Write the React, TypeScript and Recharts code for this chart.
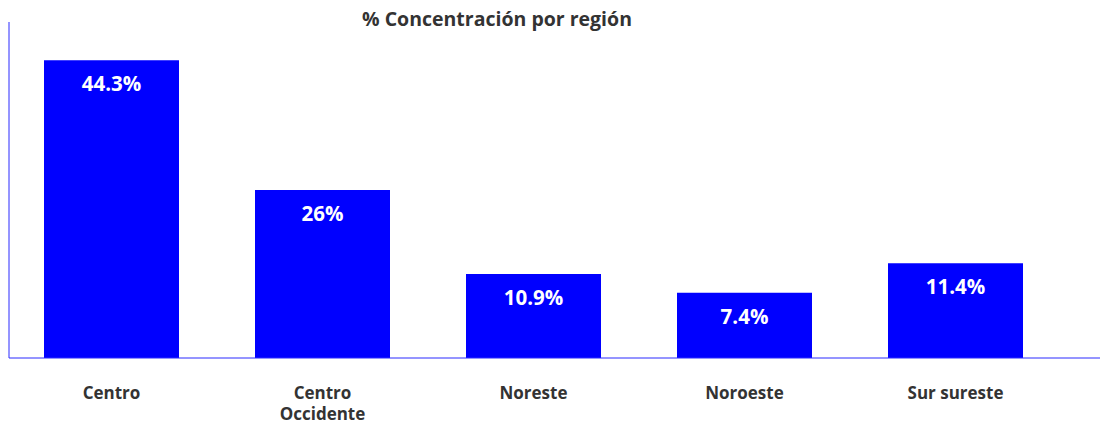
import { BarChart, Bar, XAxis, YAxis, LabelList } from 'recharts'

const regions = ['Centro', 'Centro Occidente', 'Noreste', 'Noroeste', 'Sur sureste']
// bar heights as drawn in the picture (same % units as the printed labels)
const shares = [44.3, 25.0, 12.5, 9.7, 14.1]
const shareLabels = ['44.3%', '26%', '10.9%', '7.4%', '11.4%']
const tickLines: Record<string, string[]> = {
  'Centro Occidente': ['Centro', 'Occidente'],
}

const data = regions.map((region, i) => ({ region, share: shares[i], label: shareLabels[i] }))

const FONT = '"Open Sans", "Noto Sans", sans-serif'
const BLUE = '#0000ff'
const AXIS = '#2a2aff'

function RegionTick(props: any) {
  const { x, y, payload } = props
  const lines = tickLines[payload.value] ?? [payload.value]
  return (
    <g>
      {lines.map((line, i) => (
        <text
          key={i}
          x={x}
          y={y + 35 + i * 21}
          dy="0.35em"
          textAnchor="middle"
          fill="#333"
          fontFamily={FONT}
          fontWeight={700}
          fontSize={17}
        >
          {line}
        </text>
      ))}
    </g>
  )
}

function ValueLabel(props: any) {
  const { x, y, width, index } = props
  return (
    <text
      x={x + width / 2}
      y={y + 24}
      dy="0.35em"
      textAnchor="middle"
      fill="#fff"
      fontFamily={FONT}
      fontWeight={700}
      fontSize={20.5}
    >
      {shareLabels[index]}
    </text>
  )
}

export default function App() {
  return (
    <div style={{ position: 'absolute', left: 0, top: 0, width: 1102, height: 425, background: '#fff' }}>
      <div
        style={{
          position: 'absolute',
          left: 247,
          width: 500,
          top: 5,
          textAlign: 'center',
          fontFamily: FONT,
          fontWeight: 700,
          fontSize: 19.5,
          color: '#333',
          lineHeight: '28px',
          zIndex: 1,
        }}
      >
        % Concentración por región
      </div>
      <BarChart width={1102} height={425} data={data} margin={{ top: 22, right: 2, left: 8, bottom: 7 }}>
        <YAxis type="number" domain={[0, 50]} width={1} tick={false} tickLine={false} axisLine={{ stroke: AXIS }} />
        <XAxis
          dataKey="region"
          height={60}
          tickSize={0}
          tickMargin={0}
          tickLine={false}
          axisLine={{ stroke: AXIS }}
          tick={<RegionTick />}
          interval={0}
          padding={{ left: -3, right: 39 }}
        />
        <Bar dataKey="share" fill={BLUE} barSize={135} isAnimationActive={false}>
          <LabelList dataKey="label" content={<ValueLabel />} />
        </Bar>
      </BarChart>
    </div>
  )
}
